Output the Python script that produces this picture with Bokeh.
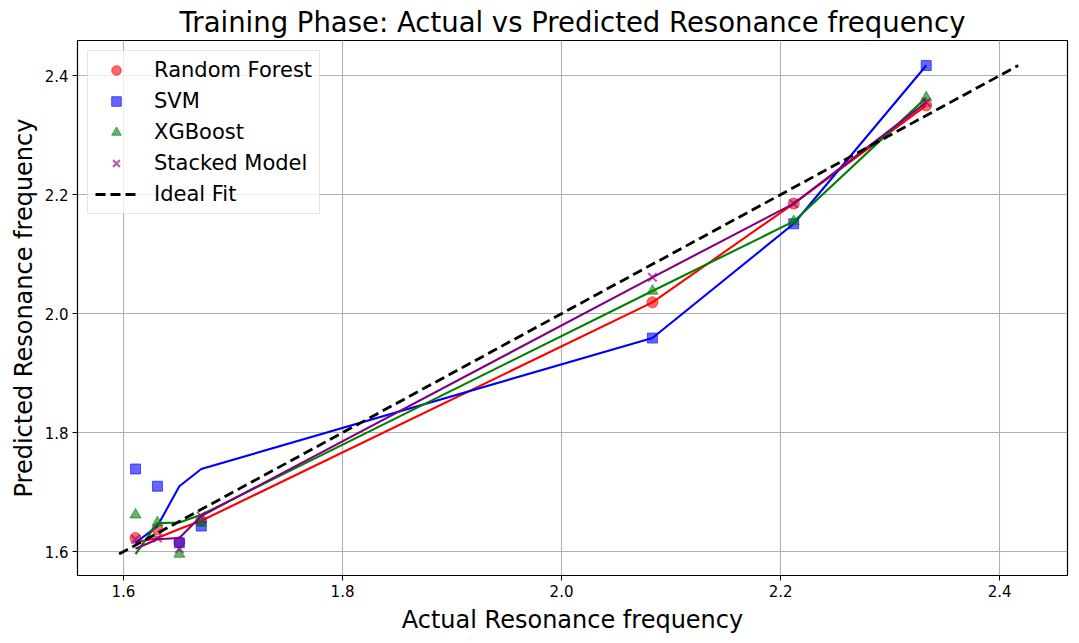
import numpy as np
from bokeh.plotting import figure
from bokeh.models import (Range1d, FixedTicker, PrintfTickFormatter, Legend, LegendItem)
from bokeh.embed import file_html
from bokeh.resources import INLINE

# ---- data ----
actual = [1.611, 1.631, 1.651, 1.671, 2.083, 2.212, 2.333]
rf_pred = [1.623, 1.638, 1.616, 1.652, 2.019, 2.185, 2.350]
svm_pred = [1.739, 1.710, 1.615, 1.643, 1.959, 2.151, 2.417]
xgb_pred = [1.662, 1.649, 1.596, 1.648, 2.038, 2.155, 2.363]
stk_pred = [1.621, 1.623, 1.605, 1.660, 2.061, 2.185, 2.355]
x_ticks = [1.6, 1.8, 2.0, 2.2, 2.4]
y_ticks = [1.6, 1.8, 2.0, 2.2, 2.4]

models = [
    ("Random Forest", rf_pred, "red", "circle", 11),
    ("SVM", svm_pred, "blue", "square", 10),
    ("XGBoost", xgb_pred, "green", "triangle", 11),
    ("Stacked Model", stk_pred, "purple", "x", 12),
]

FONT = "DejaVu Sans"

p = figure(frame_width=990, frame_height=535, output_backend="svg", toolbar_location=None,
           x_range=Range1d(1.558, 2.462), y_range=Range1d(1.56, 2.459),
           min_border_left=77, min_border_right=3, min_border_top=40, min_border_bottom=60,
           title="Training Phase: Actual vs Predicted Resonance frequency")

p.title.align = "center"
p.title.text_font = FONT
p.title.text_font_size = "27.5px"
p.title.text_font_style = "normal"
p.title.text_color = "black"
p.title.standoff = 6

p.outline_line_color = "black"
p.outline_line_width = 1.2

for ax in (p.xaxis[0], p.yaxis[0]):
    ax.major_label_text_font = FONT
    ax.major_label_text_font_size = "15px"
    ax.major_label_text_color = "black"
    ax.axis_label_text_font = FONT
    ax.axis_label_text_font_size = "24px"
    ax.axis_label_text_font_style = "normal"
    ax.axis_label_text_color = "black"
    ax.axis_line_color = None
    ax.major_tick_out = 5
    ax.major_tick_in = 0
    ax.minor_tick_out = 0
    ax.minor_tick_in = 0
    ax.major_tick_line_color = "black"
    ax.major_label_standoff = 4
    ax.formatter = PrintfTickFormatter(format="%.1f")

p.xaxis.ticker = FixedTicker(ticks=x_ticks)
p.yaxis.ticker = FixedTicker(ticks=y_ticks)
p.xaxis.axis_label = "Actual Resonance frequency"
p.yaxis.axis_label = "Predicted Resonance frequency"
p.xaxis.axis_label_standoff = 6
p.yaxis.axis_label_standoff = 4

p.grid.grid_line_color = "#b0b0b0"
p.grid.grid_line_width = 1.1

items = []
xs_sorted = np.sort(np.array(actual))
for name, pred, color, marker, msize in models:
    r = p.scatter(actual, pred, marker=marker, size=msize, fill_color=color, line_color=color,
                  fill_alpha=0.6, line_alpha=0.6, line_width=2.2 if marker == "x" else 1)
    p.line(xs_sorted, np.sort(np.array(pred)), line_color=color, line_width=2.1)
    items.append(LegendItem(label=name, renderers=[r]))

all_vals = np.concatenate([np.array(actual)] + [np.array(m[1]) for m in models])
lo, hi = all_vals.min(), all_vals.max()
ideal = p.line([lo, hi], [lo, hi], line_color="black", line_width=2.8, line_dash="10 5")
items.append(LegendItem(label="Ideal Fit", renderers=[ideal]))

legend = Legend(items=items, location="top_left")
legend.margin = 10
legend.padding = 7
legend.spacing = 7
legend.glyph_width = 42
legend.glyph_height = 24
legend.label_height = 24
legend.label_standoff = 17
legend.label_text_font = FONT
legend.label_text_font_size = "21px"
legend.label_text_color = "black"
legend.border_line_color = "#cccccc"
legend.border_line_width = 1
legend.background_fill_alpha = 0.8
p.add_layout(legend)

open("out.html", "w").write(file_html(p, INLINE))
